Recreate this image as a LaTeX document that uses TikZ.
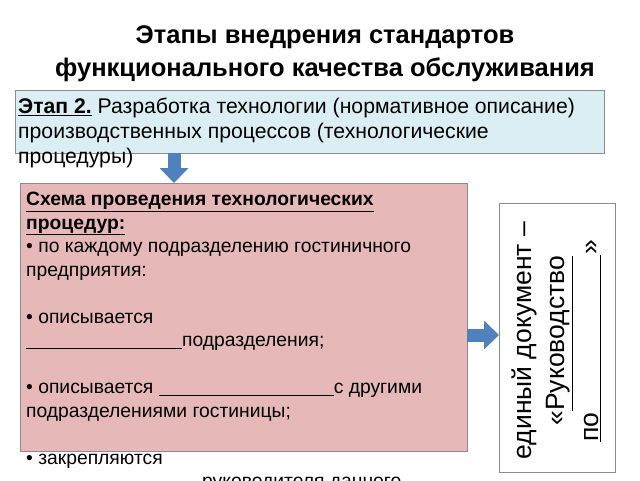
\documentclass[tikz,border=0pt]{standalone}
\usepackage{fontspec}
\setmainfont{Liberation Sans}
\usetikzlibrary{arrows.meta,positioning}
\definecolor{stageblue}{HTML}{DBEEF4}
\definecolor{schemepink}{HTML}{E6B9B8}
\definecolor{arrowblue}{HTML}{4F81BD}
\definecolor{boxgray}{HTML}{8C8C8C}
\begin{document}
\begin{tikzpicture}[x=1pt,y=-1pt,
        fatarrow/.style={arrowblue, line width=13pt, -{Triangle[width=28pt,length=15pt]}},
        panel/.style={draw=boxgray, anchor=north west, inner sep=0pt},
        txt/.style={inner sep=0pt, align=left, anchor=north west}]
        % Page (640 x 480)
        \clip (0,0) rectangle (640,480);
        % Title
        \node[font=\bfseries\fontsize{25.5}{33}\selectfont, align=center] (title) at (325,54)
            {Этапы внедрения стандартов\\функционального качества обслуживания};
        % Stage 2 (blue box)
        \node[panel, fill=stageblue, minimum width=589pt, minimum height=63pt] (stage) at (15,90) {};
        \node[txt, font=\fontsize{21.2}{25}\selectfont] (stagetext) at ([xshift=3pt,yshift=-8pt]stage.north west)
            {\textbf{\underline{Этап 2.}} Разработка технологии (нормативное описание)\\
             производственных процессов (технологические\\
             процедуры)};
        % Scheme of procedures (pink box)
        \node[panel, fill=schemepink, minimum width=447pt, minimum height=268pt] (scheme) at (20,183) {};
        \node[txt, font=\fontsize{19.3}{23.5}\selectfont] (schemetext) at ([xshift=6pt,yshift=-9pt]scheme.north west)
            {\textbf{\underline{Схема проведения технологических}}\\
             \textbf{\underline{процедур:}}\\
             • по каждому подразделению гостиничного\\
             предприятия:\\[23.5pt]
             • описывается\\
             \underline{\hspace{156pt}}подразделения;\\[23.5pt]
             • описывается \underline{\hspace{175pt}}с другими\\
             подразделениями гостиницы;\\[23.5pt]
             • закрепляются\\
             \hspace{176pt}руководителя данного};
        % Result (white box)
        \node[panel, minimum width=116pt, minimum height=269pt] (result) at (499,203) {};
        \node[rotate=90, align=center, font=\fontsize{26.5}{33.5}\selectfont] (resulttext) at ([xshift=-1pt,yshift=-3pt]result.center)
            {единый документ –\\
             «\underline{Руководство}\\
             \underline{по\hspace{158pt}}»};
        % Arrows
        \coordinate (downx) at (174,0);
        \coordinate (righty) at (0,335);
        \draw[fatarrow] (stage.south -| downx) -- (scheme.north -| downx);
        \draw[fatarrow] (scheme.east |- righty) -- (result.west |- righty);
\end{tikzpicture}
\end{document}
